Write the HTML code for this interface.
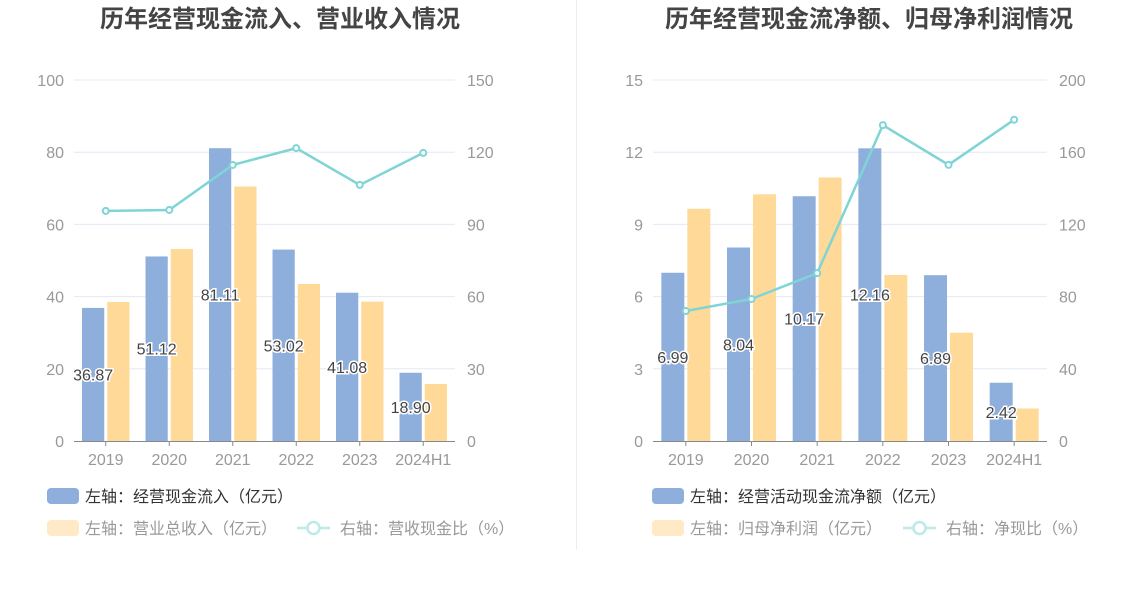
<!DOCTYPE html>
<html><head><meta charset="utf-8"><style>
body{margin:0;background:#fff;width:1148px;height:589px;overflow:hidden;font-family:"Liberation Sans","Noto Sans CJK SC",sans-serif}
svg text{font-family:"Liberation Sans","Noto Sans CJK SC",sans-serif}
</style></head><body>
<svg id="svg" width="1148" height="589">
<line x1="576.5" y1="0" x2="576.5" y2="550" stroke="#eeeeee"/>
</svg>
<script>
const categories=["2019","2020","2021","2022","2023","2024H1"];
const leftBlue=[36.87,51.12,81.11,53.02,41.08,18.90];
const leftYellow=[38.5,53.2,70.5,43.5,38.6,15.8];
const leftLine=[95.6,96,114.7,121.7,106.4,119.7];
const leftTicksL=[0,20,40,60,80,100];
const leftTicksR=[0,30,60,90,120,150];
const rightBlue=[6.99,8.04,10.17,12.16,6.89,2.42];
const rightYellow=[9.65,10.25,10.95,6.9,4.5,1.35];
const rightLine=[72,78.7,93,175,153,178];
const rightTicksL=[0,3,6,9,12,15];
const rightTicksR=[0,40,80,120,160,200];

const NS="http://www.w3.org/2000/svg";
const svg=document.getElementById('svg');
function mk(tag,attrs,parent){const e=document.createElementNS(NS,tag);for(const k in attrs)e.setAttribute(k,attrs[k]);(parent||svg).appendChild(e);return e;}

function chart(o){
  const g=mk('g',{});
  
  
  const y0=441,y1=80,x0=o.x0,x1=o.x1;
  const lMax=o.tl[o.tl.length-1],rMax=o.tr[o.tr.length-1];
  const yL=v=>y0-(v/lMax)*(y0-y1);
  const yR=v=>y0-(v/rMax)*(y0-y1);
  const band=(x1-x0)/categories.length;
  const xc=i=>x0+band*(i+0.5);
  const t=mk('text',{x:o.tx,y:27,'text-anchor':'middle','font-size':24,'font-weight':'bold',fill:'#444'},g);
  t.textContent=o.title;
  
  
  o.tl.forEach((v,i)=>{
    const y=yL(v);
    if(i>0){const l=mk('line',{x1:x0,x2:x1,y1:y,y2:y,stroke:'#e3e8f4'},g);
      
      }
    const a=mk('text',{x:x0-10,y:y+6,'text-anchor':'end','font-size':16,fill:'#999'},g);a.textContent=v;
    
    
    const b=mk('text',{x:x1+12,y:yR(o.tr[i])+6,'font-size':16,fill:'#999'},g);b.textContent=o.tr[i];
    
    
  });
  const ax=mk('line',{x1:x0,x2:x1,y1:y0+0.5,y2:y0+0.5,stroke:'#888'},g);
  
  
  const bw=band*0.35,gap=3;
  categories.forEach((c,i)=>{
    const tk=mk('line',{x1:xc(i),x2:xc(i),y1:y0,y2:y0+5,stroke:'#888'},g);
    
    
    const lb=mk('text',{x:xc(i),y:y0+24,'text-anchor':'middle','font-size':16,fill:'#999'},g);lb.textContent=c;
    
    
    const bx=xc(i)-gap/2-bw;
    const r1=mk('rect',{x:bx,y:yL(o.blue[i]),width:bw,height:y0-yL(o.blue[i]),fill:'#8eaedc'},g);
    
    
    const r2=mk('rect',{x:xc(i)+gap/2,y:yL(o.yellow[i]),width:bw,height:y0-yL(o.yellow[i]),fill:'#ffd998'},g);
    
    
  });
  categories.forEach((c,i)=>{
    const v=mk('text',{x:xc(i)-gap/2-bw/2,y:(y0+yL(o.blue[i]))/2+6,'text-anchor':'middle','font-size':16,fill:'#444',stroke:'#fff','stroke-width':3,'paint-order':'stroke'},g);
    v.textContent=o.blue[i].toFixed(2);
    
    
  });
  const pts=o.line.map((v,i)=>xc(i)+','+yR(v)).join(' ');
  const pl=mk('polyline',{points:pts,fill:'none',stroke:'#7fd4d6','stroke-width':2.5},g);
  
  
  o.line.forEach((v,i)=>{
    const p=mk('circle',{cx:xc(i),cy:yR(v),r:3,fill:'#fff',stroke:'#7fd4d6','stroke-width':2},g);
    
    
  });
  const lx=o.lx;
  const r=mk('rect',{x:lx,y:488,width:32,height:16,rx:4,fill:'#8eaedc'},g);
  
  
  const l1=mk('text',{x:lx+38,y:502,'font-size':16,fill:'#333'},g);l1.textContent=o.leg1;
  
  
  const r2=mk('rect',{x:lx,y:520,width:32,height:16,rx:4,fill:'#ffe9c6'},g);
  
  
  const l2=mk('text',{x:lx+38,y:534,'font-size':16,fill:'#999'},g);l2.textContent=o.leg2;
  
  
  const ll=mk('line',{x1:o.l3x,x2:o.l3x+33,y1:528,y2:528,stroke:'#bde9ea','stroke-width':2.5},g);
  
  
  const lc=mk('circle',{cx:o.l3x+16.5,cy:528,r:6,fill:'#fff',stroke:'#bde9ea','stroke-width':2.5},g);
  
  
  const l3=mk('text',{x:o.l3x+43,y:534,'font-size':16,fill:'#999'},g);l3.textContent=o.leg3;
  
  
}
chart({name:'left-chart',title:'历年经营现金流入、营业收入情况',tx:280,x0:74,x1:455,tl:leftTicksL,tr:leftTicksR,blue:leftBlue,yellow:leftYellow,line:leftLine,lx:47,l3x:297,leg1:'左轴：经营现金流入（亿元）',leg2:'左轴：营业总收入（亿元）',leg3:'右轴：营收现金比（%）'});
chart({name:'right-chart',title:'历年经营现金流净额、归母净利润情况',tx:869,x0:653,x1:1047,tl:rightTicksL,tr:rightTicksR,blue:rightBlue,yellow:rightYellow,line:rightLine,lx:652,l3x:903,leg1:'左轴：经营活动现金流净额（亿元）',leg2:'左轴：归母净利润（亿元）',leg3:'右轴：净现比（%）'});
</script>
</body></html>
